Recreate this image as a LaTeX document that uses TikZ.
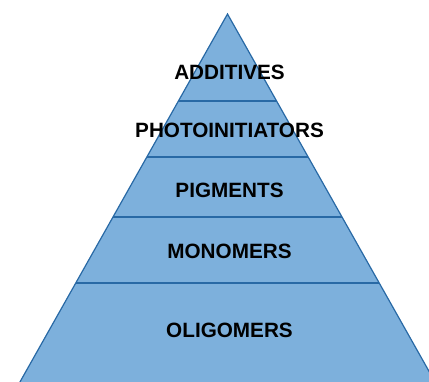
\documentclass[tikz,border=0pt]{standalone}
\usepackage{fontspec}
\setmainfont{Liberation Sans}
\usetikzlibrary{calc}
\definecolor{pyrfill}{RGB}{125,176,220}
\definecolor{pyredge}{RGB}{40,105,165}
\begin{document}
\begin{tikzpicture}[x=1pt,y=-1pt,
  lvl/.style={font=\bfseries\fontsize{20.7}{23}\selectfont,text=black,inner sep=0pt},
  edge/.style={draw=pyredge,line width=1.2pt}]
\useasboundingbox (0,0) rectangle (429,381);
\clip (0,0) rectangle (429,381);
\coordinate (apex) at (227.5,14);
\coordinate (bl) at (20.5,381);
\coordinate (br) at (434.5,381);
\fill[pyrfill] (apex) -- ($(apex)!1.05!(bl)$) -- ($(apex)!1.05!(br)$) -- cycle;
\draw[edge] ($(apex)!1.05!(bl)$) -- (apex) -- ($(apex)!1.05!(br)$);
\foreach \y/\n in {101/a,157/b,217/c,283/d}{
  \coordinate (l\n) at ($(apex)!{(\y-14)/367}!(bl)$);
  \coordinate (r\n) at ($(apex)!{(\y-14)/367}!(br)$);
  \draw[edge] (l\n) -- (r\n);
}
\node[lvl] (t1) at (229.5,72) {ADDITIVES};
\node[lvl] (t2) at (229.5,130) {PHOTOINITIATORS};
\node[lvl] (t3) at (229.5,190) {PIGMENTS};
\node[lvl] (t4) at (229.5,251) {MONOMERS};
\node[lvl] (t5) at (229.5,330) {OLIGOMERS};
\end{tikzpicture}
\end{document}
